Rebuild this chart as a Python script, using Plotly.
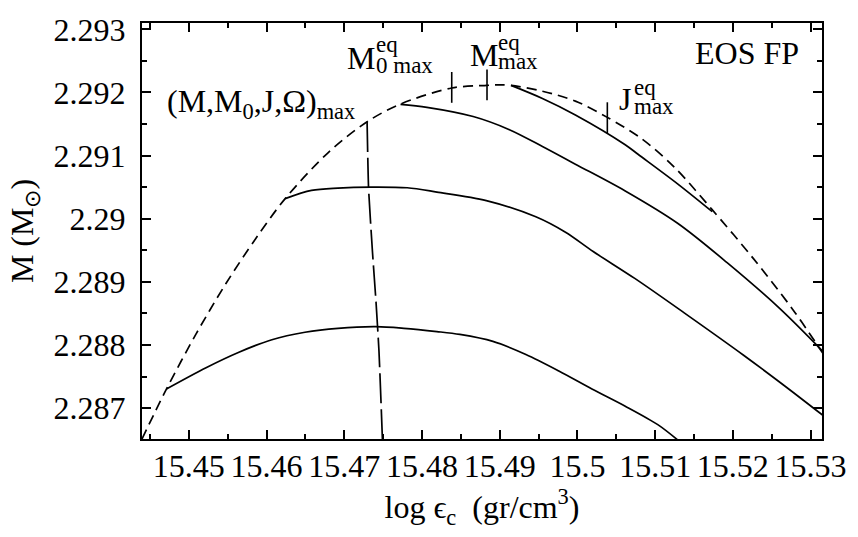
import plotly.graph_objects as go

# ---------------- data ----------------
# mass-shedding envelope (dashed)
env_x = [15.44398, 15.44712, 15.45094, 15.45476, 15.45858, 15.4624, 15.46791, 15.47300, 15.47724,
         15.48383, 15.48837, 15.48994, 15.49146, 15.4955, 15.49974, 15.50385, 15.50823, 15.51247,
         15.51731, 15.52265, 15.52775, 15.53157]
env_y = [2.28651, 2.28730, 2.288175, 2.288969, 2.289679, 2.290318, 2.291044, 2.29154, 2.291816,
         2.29207, 2.292112, 2.29212, 2.292112, 2.292019, 2.291863, 2.291605, 2.29127, 2.290817,
         2.290147, 2.289367, 2.288555, 2.287869]

# constant sequences (solid)
c1_x = [15.44712, 15.45222, 15.45645, 15.46069, 15.46495, 15.46919, 15.47406, 15.47768, 15.48192,
        15.48488, 15.48913, 15.49337, 15.49761, 15.50187, 15.50610, 15.51034, 15.51289]
c1_y = [2.287303, 2.28764, 2.287885, 2.288083, 2.288201, 2.288264, 2.28829, 2.288264, 2.288212,
        2.288166, 2.288056, 2.287849, 2.287588, 2.287303, 2.287034, 2.286738, 2.286496]

c2_x = [15.4624, 15.46579, 15.46919, 15.47342, 15.47810, 15.48192, 15.48828, 15.49465, 15.49847,
        15.50203, 15.50738, 15.51374, 15.52138, 15.52647, 15.53157]
c2_y = [2.290318, 2.290448, 2.290485, 2.290501, 2.29049, 2.290422, 2.290287, 2.290030, 2.289785,
        2.289480, 2.289054, 2.288508, 2.287837, 2.287370, 2.286886]

c3_x = [15.47724, 15.48064, 15.48659, 15.49125, 15.4955, 15.49974, 15.50610, 15.51289, 15.51926,
        15.52605, 15.53157]
c3_y = [2.291811, 2.291764, 2.291618, 2.29141, 2.291144, 2.290864, 2.290443, 2.289928, 2.289304,
        2.288576, 2.2879]

c4_x = [15.49146, 15.4955, 15.49974, 15.5061, 15.5078, 15.51289, 15.51735]
c4_y = [2.292112, 2.291905, 2.291644, 2.291176, 2.29102, 2.290552, 2.290111]

# locus of maxima (long dashed)
mx_x = [15.47294, 15.47313, 15.47364, 15.47409, 15.47447, 15.47491]
mx_y = [2.291535, 2.29049, 2.28946, 2.28868, 2.2879, 2.286512]

# tick marks on envelope: M0max, Mmax, Jmax
tk_x = [15.48383, 15.48837, 15.50385]
tk_y = [2.29208, 2.29212, 2.29160]

x_tickvals = [15.45, 15.46, 15.47, 15.48, 15.49, 15.50, 15.51, 15.52, 15.53]
x_ticktext = ["15.45", "15.46", "15.47", "15.48", "15.49", "15.5", "15.51", "15.52", "15.53"]
y_tickvals = [2.287, 2.288, 2.289, 2.290, 2.291, 2.292, 2.293]
y_ticktext = ["2.287", "2.288", "2.289", "2.29", "2.291", "2.292", "2.293"]

FONT = "Liberation Serif"
LW = 1.7
SM = 0.9

fig = go.Figure()
fig.add_trace(go.Scatter(x=env_x, y=env_y, mode="lines", line=dict(color="black", width=LW, dash="10px,6px", shape="spline", smoothing=SM)))
for cx, cy in [(c1_x, c1_y), (c2_x, c2_y), (c3_x, c3_y), (c4_x, c4_y)]:
    fig.add_trace(go.Scatter(x=cx, y=cy, mode="lines", line=dict(color="black", width=LW, shape="spline", smoothing=SM)))
fig.add_trace(go.Scatter(x=mx_x, y=mx_y, mode="lines", line=dict(color="black", width=LW, dash="30px,6px", shape="spline", smoothing=0.5)))
fig.add_trace(go.Scatter(x=tk_x, y=tk_y, mode="markers",
                         marker=dict(symbol="line-ns", size=22, line=dict(color="black", width=1.6))))

def ann(x, y, text, size=32, xanchor="left"):
    fig.add_annotation(x=x, y=y, xref="x", yref="y", text=text, showarrow=False,
                       xanchor=xanchor, yanchor="middle",
                       font=dict(family=FONT, size=size, color="black"))

ann(15.44691, 2.29183, "(M,M<sub>0</sub>,J,Ω)<sub>max</sub>")
ann(15.4701, 2.29254, "M")
ann(15.4738, 2.29276, "eq", 23)
ann(15.4738, 2.29242, "0 max", 23)
ann(15.48595, 2.29260, "M")
ann(15.48955, 2.29279, "eq", 23)
ann(15.48955, 2.29249, "max", 23)
ann(15.50505, 2.29190, "J")
ann(15.5070, 2.29208, "eq", 23)
ann(15.5070, 2.29178, "max", 23)
ann(15.5218, 2.29262, "EOS FP", 32, "center")

axis_common = dict(showline=True, linecolor="black", linewidth=2, mirror="allticks",
                   ticks="inside", ticklen=9, tickwidth=1.5, tickcolor="black",
                   showgrid=False, zeroline=False)

fig.update_xaxes(range=[15.44398, 15.53147], tickmode="array", tickvals=x_tickvals, ticktext=x_ticktext,
                 tickfont_family=FONT, tickfont_size=32, tickfont_color="black",
                 minor=dict(ticks="inside", ticklen=5, tickwidth=1.5, tickcolor="black", dtick=0.005, tick0=15.445),
                 ticklabelstandoff=-2,
                 title=dict(text="log ϵ<sub>c</sub>  (gr/cm<sup>3</sup>)", font=dict(family=FONT, size=32, color="black"), standoff=4),
                 **axis_common)
fig.update_yaxes(range=[2.28651, 2.29310], tickmode="array", tickvals=y_tickvals, ticktext=y_ticktext,
                 tickfont_family=FONT, tickfont_size=32, tickfont_color="black",
                 minor=dict(ticks="inside", ticklen=5, tickwidth=1.5, tickcolor="black", dtick=0.0005, tick0=2.2865),
                 ticklabelstandoff=8,
                 title=dict(text="M (M<sub>⊙</sub>)", font=dict(family=FONT, size=32, color="black"), standoff=10),
                 **axis_common)

fig.update_layout(width=858, height=537, margin=dict(l=142, r=29, t=17, b=98),
                  font=dict(family=FONT, size=32, color="black"),
                  paper_bgcolor="white", plot_bgcolor="white", showlegend=False)

fig.write_html("out.html")
